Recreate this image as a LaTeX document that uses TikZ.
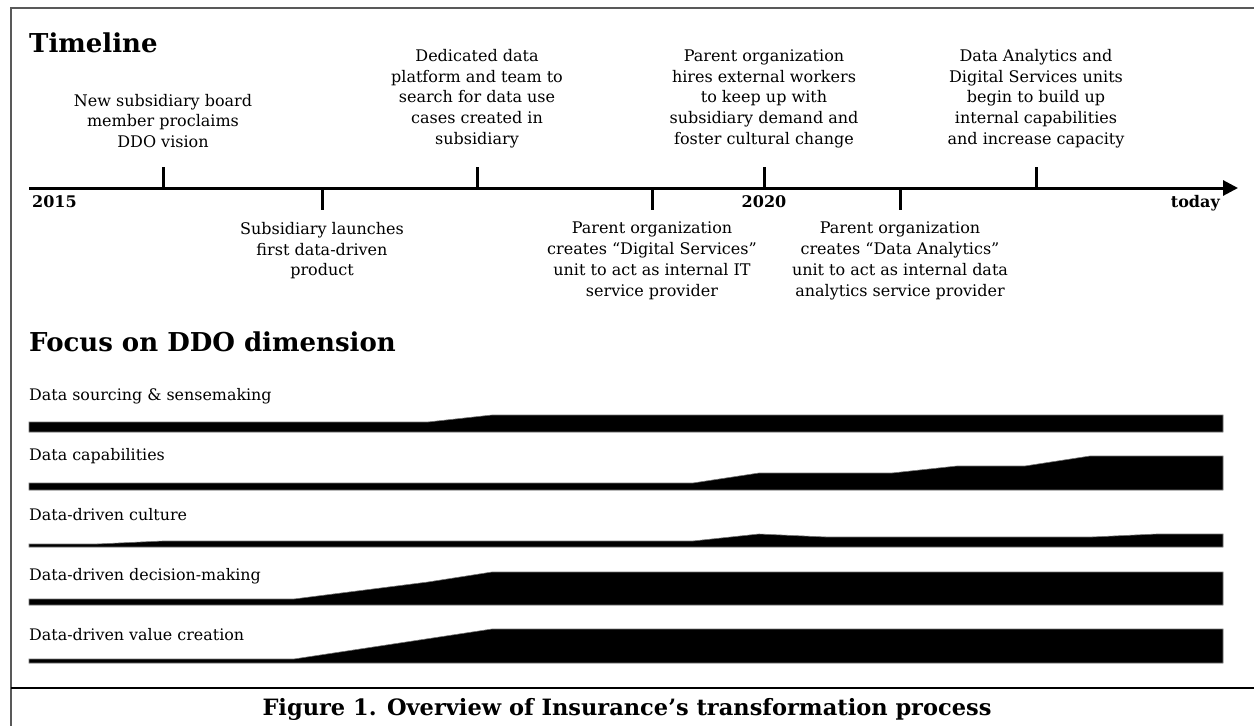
\documentclass[tikz,border=0pt]{standalone}
\usepackage{fontspec}
\setmainfont{DejaVu Serif}
\usetikzlibrary{arrows.meta,positioning}
\tikzstyle{heading} = [inner sep=0pt, anchor=base west, font=\fontsize{26}{30}\selectfont\bfseries]
\tikzstyle{event} = [inner sep=0pt, align=center, font=\fontsize{16}{20.7}\selectfont]
\tikzstyle{year} = [inner sep=0pt, font=\fontsize{16}{18}\selectfont\bfseries]
\tikzstyle{dimension} = [inner sep=0pt, anchor=base west, font=\fontsize{15.9}{18}\selectfont]
\tikzstyle{axis} = [line width=3pt, -{Triangle[length=15pt,width=15pt]}]
\tikzstyle{tick} = [line width=3pt]
\tikzstyle{level} = [fill=black, draw=black!55, line width=0.6pt]
\tikzstyle{frame} = [draw=black!65, line width=1.6pt]

\begin{document}
\begin{tikzpicture}[x=1pt, y=-1pt]
\useasboundingbox (0,0) rectangle (1254,726);
\clip (0,0) rectangle (1254,726);

% Outer frame and caption rule
\draw[frame] (11,740) -- (11,8) -- (1270,8);
\draw[line width=1.3pt] (11,688) -- (1270,688);

% Timeline
\node[heading] (timeline) at (29,52) {Timeline};

% Axis
\coordinate (start) at (29,188);
\coordinate (today) at (1238,188);
\draw[axis] (start) -- (today);

% Years
\node[year, anchor=base west] (y2015) at (32,207) {2015};
\node[year, anchor=base] (y2020) at (764,207) {2020};
\node[year, anchor=base east] (ynow) at (1220,207) {today};

% Events above the axis
\draw[tick] (163,188) -- (163,167) coordinate (t1);
\node[event, above=19pt of t1] (e1) {New subsidiary board\\member proclaims\\DDO vision};

\draw[tick] (477,188) -- (477,167) coordinate (t3);
\node[event, above=19pt of t3] (e3) {Dedicated data\\platform and team to\\search for data use\\cases created in\\subsidiary};

\draw[tick] (764,188) -- (764,167) coordinate (t5);
\node[event, above=19pt of t5] (e5) {Parent organization\\hires external workers\\to keep up with\\subsidiary demand and\\foster cultural change};

\draw[tick] (1036,188) -- (1036,167) coordinate (t7);
\node[event, above=19pt of t7] (e7) {Data Analytics and\\Digital Services units\\begin to build up\\internal capabilities\\and increase capacity};

% Events below the axis
\draw[tick] (322,188) -- (322,210) coordinate (t2);
\node[event, below=12pt of t2] (e2) {Subsidiary launches\\first data-driven\\product};

\draw[tick] (652,188) -- (652,210) coordinate (t4);
\node[event, below=12pt of t4] (e4) {Parent organization\\creates “Digital Services”\\unit to act as internal IT\\service provider};

\draw[tick] (900,188) -- (900,210) coordinate (t6);
\node[event, below=12pt of t6] (e6) {Parent organization\\creates “Data Analytics”\\unit to act as internal data\\analytics service provider};

% Focus on DDO dimension
\node[heading] (focus) at (29,351) {Focus on DDO dimension};

% Data sourcing & sensemaking
\node[dimension] (sourcing) at (29,400) {Data sourcing \& sensemaking};
\filldraw[level] (29,432) -- (29,422) -- (428,422) -- (492,415) -- (1223,415) -- (1223,432) -- cycle;

% Data capabilities
\node[dimension] (capabilities) at (29,460) {Data capabilities};
\filldraw[level] (29,490) -- (29,483) -- (693,483) -- (759,473) -- (892,473) -- (957,466)
  -- (1025,466) -- (1090,456) -- (1223,456) -- (1223,490) -- cycle;

% Data-driven culture
\node[dimension] (culture) at (29,520) {Data-driven culture};
\filldraw[level] (29,547) -- (29,544) -- (97,544) -- (163,541) -- (693,541) -- (759,534)
  -- (826,537) -- (1092,537) -- (1157,534) -- (1223,534) -- (1223,547) -- cycle;

% Data-driven decision-making
\node[dimension] (decision) at (29,580) {Data-driven decision-making};
\filldraw[level] (29,605) -- (29,599) -- (294,599) -- (428,582) -- (492,572) -- (1223,572) -- (1223,605) -- cycle;

% Data-driven value creation
\node[dimension] (value) at (29,640) {Data-driven value creation};
\filldraw[level] (29,663) -- (29,659) -- (294,659) -- (492,629) -- (1223,629) -- (1223,663) -- cycle;

% Caption
\node[inner sep=0pt, anchor=base, font=\fontsize{22.5}{26}\selectfont\bfseries] (caption) at (627,715)
  {Figure 1. Overview of Insurance’s transformation process};

\end{tikzpicture}
\end{document}
